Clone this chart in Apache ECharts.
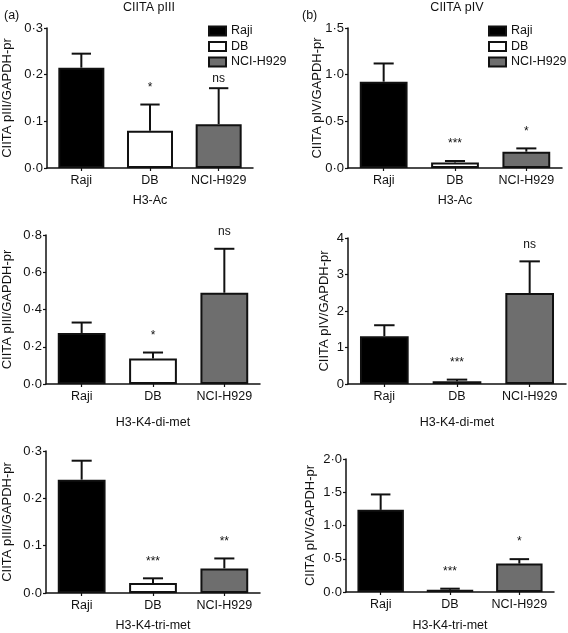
<!DOCTYPE html>
<html>
<head>
<meta charset="utf-8">
<script src="https://cdn.jsdelivr.net/npm/echarts@6/dist/echarts.min.js"></script>
<style>
html,body{margin:0;padding:0;background:#fff;}
#chart{width:568px;height:633px;}
</style>
</head>
<body>
<div id="chart"></div>
<script>
// ---- data ----
const categories = ['Raji', 'DB', 'NCI-H929'];
const seriesNames = ['Raji', 'DB', 'NCI-H929'];

const p1Means = [0.215, 0.080, 0.094];
const p1Errs  = [0.030, 0.056, 0.077];
const p1Sig   = ['', '*', 'ns'];

const p2Means = [0.925, 0.060, 0.175];
const p2Errs  = [0.195, 0.015, 0.035];
const p2Sig   = ['', '***', '*'];

const p3Means = [0.274, 0.137, 0.490];
const p3Errs  = [0.056, 0.032, 0.236];
const p3Sig   = ['', '*', 'ns'];

const p4Means = [1.31, 0.075, 2.49];
const p4Errs  = [0.30, 0.045, 0.87];
const p4Sig   = ['', '***', 'ns'];

const p5Means = [0.2395, 0.021, 0.052];
const p5Errs  = [0.040, 0.010, 0.021];
const p5Sig   = ['', '***', '**'];

const p6Means = [1.235, 0.035, 0.427];
const p6Errs  = [0.232, 0.015, 0.067];
const p6Sig   = ['', '***', '*'];

const yMax      = [0.3, 1.5, 0.8, 4, 0.3, 2.0];
const yInterval = [0.1, 0.5, 0.2, 1, 0.1, 0.5];
const yDecimals = [1, 1, 1, 0, 1, 1];
const yNames = ['CIITA pIII/GAPDH-pr', 'CIITA pIV/GAPDH-pr', 'CIITA pIII/GAPDH-pr',
                'CIITA pIV/GAPDH-pr', 'CIITA pIII/GAPDH-pr', 'CIITA pIV/GAPDH-pr'];
const xNames = ['H3-Ac', 'H3-Ac', 'H3-K4-di-met', 'H3-K4-di-met', 'H3-K4-tri-met', 'H3-K4-tri-met'];
const panelTitles = ['CIITA pIII', 'CIITA pIV'];
const panelLetters = ['(a)', '(b)'];

// ---- layout / style ----
const FONT = '"Liberation Sans", Arial, Helvetica, sans-serif';
const barColors = ['#000000', '#ffffff', '#6e6e6e'];
const grids = [
  {left: 43,  top: 28,  width: 210, height: 140},
  {left: 348, top: 28,  width: 214, height: 140},
  {left: 42,  top: 235, width: 218, height: 149},
  {left: 348, top: 238, width: 218, height: 146},
  {left: 42,  top: 451, width: 218, height: 145},
  {left: 346, top: 459, width: 208, height: 138}
];
const yNameGaps = [33, 24, 32, 17, 32, 29];
const xNameGaps = [26, 26, 32, 32, 26, 27];
// pixel gap between error-bar top and the bottom of the significance text
const sigGaps = [[11, 11, 4], [11, 11, 11], [11, 11, 11], [11, 11, 11], [11, 11, 11], [11, 11, 11]];
const BAR_FRAC = 0.67;

const panels = [
  {means: p1Means, errs: p1Errs, sig: p1Sig},
  {means: p2Means, errs: p2Errs, sig: p2Sig},
  {means: p3Means, errs: p3Errs, sig: p3Sig},
  {means: p4Means, errs: p4Errs, sig: p4Sig},
  {means: p5Means, errs: p5Errs, sig: p5Sig},
  {means: p6Means, errs: p6Errs, sig: p6Sig}
];

const xAxes = [], yAxes = [], series = [];
panels.forEach((p, k) => {
  xAxes.push({
    type: 'category', gridIndex: k, data: categories,
    name: xNames[k], nameLocation: 'middle', nameGap: xNameGaps[k], nameMoveOverlap: false,
    nameTextStyle: {fontFamily: FONT, fontSize: 12.5, color: '#111'},
    axisLine: {lineStyle: {color: '#111', width: 1.5}},
    axisTick: {show: true, alignWithLabel: true, length: 3, lineStyle: {color: '#111', width: 1.2}},
    axisLabel: {fontFamily: FONT, fontSize: 12.5, color: '#111', margin: 6, interval: 0, hideOverlap: false},
    splitLine: {show: false}
  });
  const dec = yDecimals[k];
  yAxes.push({
    type: 'value', gridIndex: k, min: 0, max: yMax[k], interval: yInterval[k],
    name: yNames[k], nameLocation: 'middle', nameGap: yNameGaps[k], nameRotate: 90,
    nameMoveOverlap: false,
    nameTextStyle: {fontFamily: FONT, fontSize: 13, color: '#111'},
    axisLine: {show: true, lineStyle: {color: '#111', width: 1.5}},
    axisTick: {show: true, length: 3, lineStyle: {color: '#111', width: 1.2}},
    axisLabel: {fontFamily: FONT, fontSize: 13, color: '#111', margin: 4,
      formatter: v => v.toFixed(dec).replace('.', '\u00B7')},
    splitLine: {show: false}
  });
  seriesNames.forEach((nm, j) => {
    series.push({
      type: 'bar', name: nm, xAxisIndex: k, yAxisIndex: k,
      data: categories.map((c, i) => i === j ? p.means[i] : '-'),
      barWidth: (BAR_FRAC * 100) + '%', barGap: '-100%',
      itemStyle: {color: barColors[j], borderColor: '#111', borderWidth: 2},
      emphasis: {disabled: true},
      z: 2
    });
  });
  series.push({
    type: 'custom', xAxisIndex: k, yAxisIndex: k, z: 3, silent: true,
    data: categories.map((c, i) => [i, p.means[i], p.errs[i]]),
    renderItem: (params, api) => {
      const i = api.value(0), m = api.value(1), e = api.value(2);
      const base = api.coord([i, m]);
      const top = api.coord([i, m + e]);
      const band = api.size([1, 0])[0];
      const half = band * BAR_FRAC * 0.42 / 2;
      const style = {stroke: '#111', lineWidth: 2};
      const children = [
        {type: 'line', shape: {x1: base[0], y1: base[1], x2: top[0], y2: top[1]}, style},
        {type: 'line', shape: {x1: top[0] - half, y1: top[1], x2: top[0] + half, y2: top[1]}, style}
      ];
      const s = p.sig[params.dataIndex];
      if (s) {
        children.push({type: 'text', x: top[0], y: top[1] - sigGaps[k][params.dataIndex],
          style: {text: s, fill: '#111', font: '12px ' + FONT, align: 'center', verticalAlign: 'bottom'}});
      }
      return {type: 'group', children};
    }
  });
});

const legendCommon = {
  orient: 'vertical', data: seriesNames, icon: 'rect', padding: 0,
  itemWidth: 17, itemHeight: 9, itemGap: 1.5, selectedMode: false,
  textStyle: {fontFamily: FONT, fontSize: 12.5, color: '#111', lineHeight: 14},
  itemStyle: {borderColor: '#111', borderWidth: 2}
};

const titleText = {fontFamily: FONT, fontSize: 12.5, fontWeight: 'normal', color: '#111'};
const option = {
  animation: false,
  backgroundColor: '#ffffff',
  title: [
    {text: panelTitles[0], left: 149, top: 1, padding: 0, textAlign: 'center', textStyle: titleText},
    {text: panelTitles[1], left: 457, top: 1, padding: 0, textAlign: 'center', textStyle: titleText},
    {text: panelLetters[0], left: 4, top: 9, padding: 0, textStyle: titleText},
    {text: panelLetters[1], left: 302, top: 9, padding: 0, textStyle: titleText}
  ],
  legend: [
    Object.assign({left: 208, top: 24}, legendCommon),
    Object.assign({left: 488, top: 24}, legendCommon)
  ],
  grid: grids.map(g => Object.assign({containLabel: false}, g)),
  xAxis: xAxes,
  yAxis: yAxes,
  series: series
};

const chart = echarts.init(document.getElementById('chart'), null, {renderer: 'canvas'});
chart.setOption(option);
</script>
</body>
</html>
